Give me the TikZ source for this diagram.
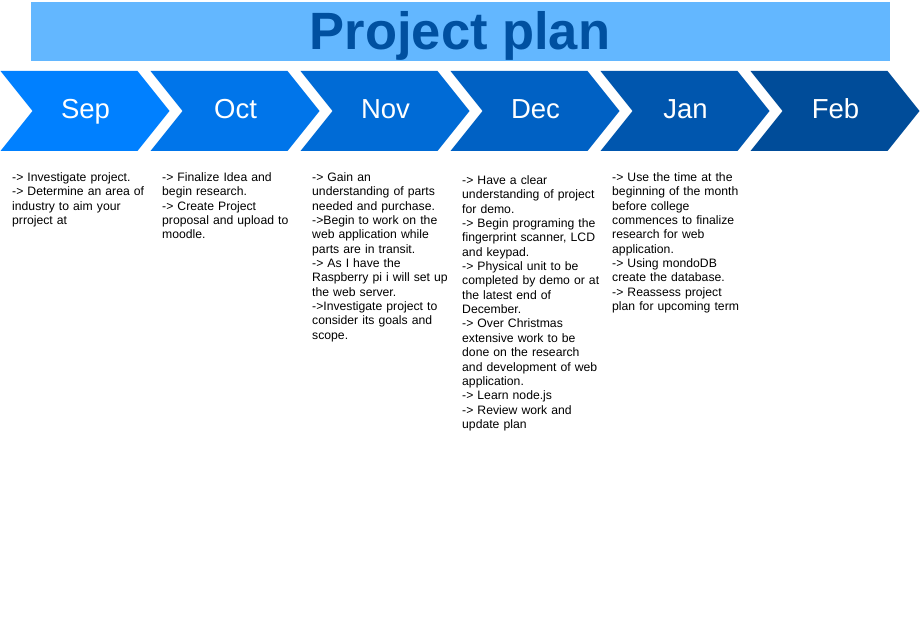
\documentclass[tikz,border=0pt]{standalone}
\usepackage{fontspec}
\setmainfont{Liberation Sans}
\definecolor{titlefill}{RGB}{99,183,255}
\definecolor{titletext}{RGB}{0,80,160}
\definecolor{c0}{RGB}{0,128,255}
\definecolor{c1}{RGB}{0,117,234}
\definecolor{c2}{RGB}{0,107,214}
\definecolor{c3}{RGB}{0,97,196}
\definecolor{c4}{RGB}{0,86,174}
\definecolor{c5}{RGB}{0,76,153}
\begin{document}
\begin{tikzpicture}[x=1pt,y=-1pt,
  note/.style={anchor=base west, inner sep=0pt, align=left,
    font=\fontsize{12.2}{14.35}\selectfont, text width=150pt},
  month/.style={anchor=base, inner sep=0pt, text=white,
    font=\fontsize{27.5}{31}\selectfont}]
\useasboundingbox (0,0) rectangle (921,644);
\fill[white] (0,0) rectangle (921,644);
% title banner
\fill[titlefill] (31,2) rectangle (890,61);
\node[anchor=base, inner sep=0pt, text=titletext,
  font=\bfseries\fontsize{52.5}{58}\selectfont] (title) at (460,49.5) {Project plan};
% month chevrons
\foreach \i/\m/\c in {0/Sep/c0,1/Oct/c1,2/Nov/c2,3/Dec/c3,4/Jan/c4,5/Feb/c5}{
  \fill[\c] (150*\i+0.5,71) -- (150*\i+137.5,71) -- (150*\i+169.5,111)
    -- (150*\i+137.5,151) -- (150*\i+0.5,151) -- (150*\i+32.5,111) -- cycle;
  \node[month] (m\i) at (150*\i+85.5,119) {\m};
}
% monthly tasks
\node[note] (sep) at (12,181.5) {-> Investigate project.\\
-> Determine an area of\\
industry to aim your\\
prroject at};
\node[note] (oct) at (162,181.5) {-> Finalize Idea and\\
begin research.\\
-> Create Project\\
proposal and upload to\\
moodle.};
\node[note] (nov) at (312,181.5) {-> Gain an\\
understanding of parts\\
needed and purchase.\\
->Begin to work on the\\
web application while\\
parts are in transit.\\
-> As I have the\\
Raspberry pi i will set up\\
the web server.\\
->Investigate project to\\
consider its goals and\\
scope.};
\node[note] (dec) at (462,184.5) {-> Have a clear\\
understanding of project\\
for demo.\\
-> Begin programing the\\
fingerprint scanner, LCD\\
and keypad.\\
-> Physical unit to be\\
completed by demo or at\\
the latest end of\\
December.\\
-> Over Christmas\\
extensive work to be\\
done on the research\\
and development of web\\
application.\\
-> Learn node.js\\
-> Review work and\\
update plan};
\node[note] (jan) at (612,181.5) {-> Use the time at the\\
beginning of the month\\
before college\\
commences to finalize\\
research for web\\
application.\\
-> Using mondoDB\\
create the database.\\
-> Reassess project\\
plan for upcoming term};
\end{tikzpicture}
\end{document}
